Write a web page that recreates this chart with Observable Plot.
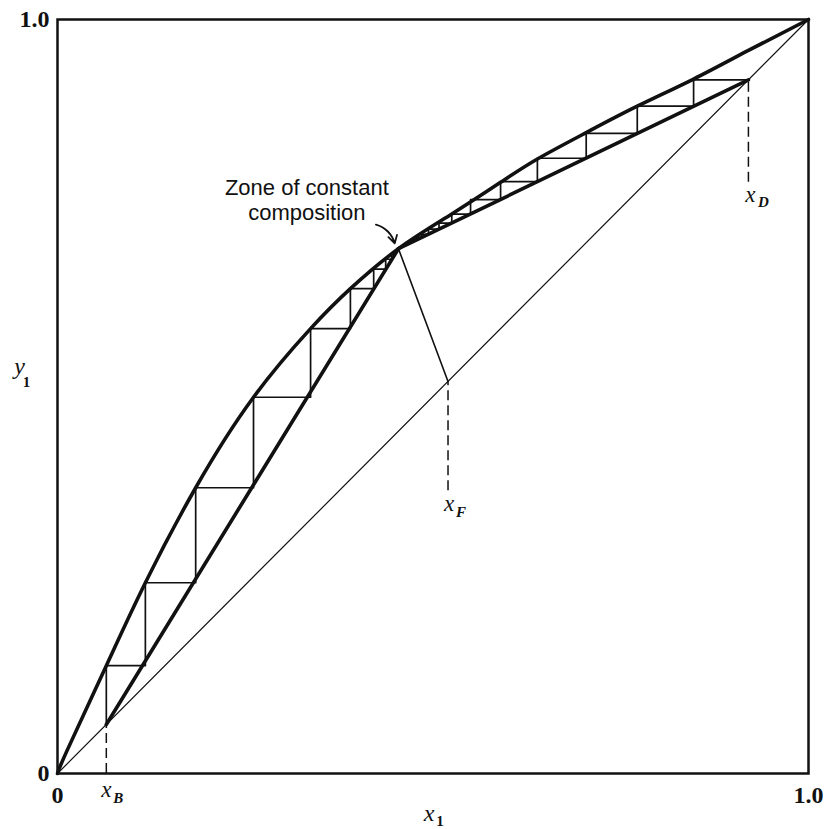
<!DOCTYPE html>
<html><head><meta charset="utf-8">
<script src="https://cdn.jsdelivr.net/npm/d3@7"></script>
<script src="https://cdn.jsdelivr.net/npm/@observablehq/plot@0.6"></script>
<style>body{margin:0;background:#fff}</style>
</head><body><div id="chart"></div>
<script>
// Equilibrium curve
const eqX = [0, 0.013, 0.065, 0.117, 0.184, 0.261, 0.337, 0.390, 0.454, 0.525, 0.590, 0.639, 0.704, 0.772, 0.847, 0.920, 1.0];
const eqY = [0, 0.031, 0.143, 0.253, 0.379, 0.499, 0.590, 0.643, 0.696, 0.742, 0.784, 0.815, 0.850, 0.885, 0.921, 0.959, 1.0];
// key compositions
const xB = 0.065, xF = 0.52, xD = 0.92;
const pinchX = 0.454, pinchY = 0.696;
// stripping-section stage corners (x of verticals, y of horizontals)
const stripX = [0.065, 0.117, 0.184, 0.261, 0.337, 0.390, 0.421, 0.437, 0.445, 0.450];
const stripY = [0.143, 0.253, 0.379, 0.499, 0.590, 0.643, 0.669, 0.682, 0.689, 0.693];
// rectifying-section stage corners
const rectX = [0.847, 0.772, 0.704, 0.639, 0.590, 0.550, 0.525, 0.508, 0.494, 0.485, 0.478, 0.472];
const rectY = [0.920, 0.885, 0.849, 0.816, 0.785, 0.761, 0.742, 0.730, 0.722, 0.715, 0.711, 0.708, 0.705];
// lower ends of dashed drop lines
const xFdashEnd = 0.375, xDdashEnd = 0.784;
// tick values and labels
const tickValues = [0, 1];
const tickLabels = ["0", "1.0"];

const eq = eqX.map((x, i) => ({x, y: eqY[i]}));
const stripSteps = [{x: stripX[0], y: xB}];
stripX.forEach((x, i) => {
  stripSteps.push({x, y: stripY[i]});
  if (i + 1 < stripX.length) stripSteps.push({x: stripX[i + 1], y: stripY[i]});
});
const rectSteps = [{x: xD, y: rectY[0]}];
rectX.forEach((x, i) => {
  rectSteps.push({x, y: rectY[i]});
  rectSteps.push({x, y: rectY[i + 1]});
});
const diag = [{x: 0, y: 0}, {x: 1, y: 1}];
const stripOp = [{x: xB, y: xB}, {x: pinchX, y: pinchY}];
const rectOp = [{x: xD, y: xD}, {x: pinchX, y: pinchY}];
const qLine = [{x: xF, y: xF}, {x: pinchX, y: pinchY}];
const fmt = d => tickLabels[tickValues.indexOf(d)];
const serif = "Liberation Serif";

const plot = Plot.plot({
  width: 824, height: 829,
  marginLeft: 57, marginRight: 16, marginTop: 19, marginBottom: 56,
  x: {domain: [0, 1]}, y: {domain: [0, 1]},
  style: {background: "#fff", color: "#111", fontFamily: serif},
  marks: [
    Plot.line(diag, {x: "x", y: "y", stroke: "#111", strokeWidth: 1.2}),
    Plot.ruleX([xB], {x: d => d, y1: 0, y2: xB, stroke: "#111", strokeWidth: 1.5, strokeDasharray: "10,5"}),
    Plot.ruleX([xF], {x: d => d, y1: xFdashEnd, y2: xF, stroke: "#111", strokeWidth: 1.5, strokeDasharray: "10,5"}),
    Plot.ruleX([xD], {x: d => d, y1: xDdashEnd, y2: xD, stroke: "#111", strokeWidth: 1.5, strokeDasharray: "10,5"}),
    Plot.line(stripSteps, {x: "x", y: "y", stroke: "#111", strokeWidth: 1.7}),
    Plot.line(rectSteps, {x: "x", y: "y", stroke: "#111", strokeWidth: 1.7}),
    Plot.line(qLine, {x: "x", y: "y", stroke: "#111", strokeWidth: 1.6}),
    Plot.line(eq, {x: "x", y: "y", curve: "natural", stroke: "#111", strokeWidth: 3.6}),
    Plot.line(stripOp, {x: "x", y: "y", stroke: "#111", strokeWidth: 3.6}),
    Plot.line(rectOp, {x: "x", y: "y", stroke: "#111", strokeWidth: 3.6}),
    Plot.frame({stroke: "#111", strokeWidth: 2.5}),
    Plot.axisX(tickValues, {tickFormat: fmt, tickSize: 0, tickPadding: 12, label: null,
      fontSize: 24, fontWeight: "bold", fontFamily: serif}),
    Plot.axisY(tickValues, {tickFormat: fmt, tickSize: 0, tickPadding: 8, label: null,
      fontSize: 24, fontWeight: "bold", fontFamily: serif}),
    // axis titles
    Plot.text([0.5], {x: d => d, y: 0, text: () => "x", dx: -4, dy: 40, fontSize: 24, fontStyle: "italic", fontFamily: serif}),
    Plot.text([0.5], {x: d => d, y: 0, text: () => "1", dx: 7, dy: 48, fontSize: 15, fontWeight: "bold", fontFamily: serif}),
    Plot.text([0], {x: d => d, y: 0.5, text: () => "y", dx: -38, dy: -30, fontSize: 24, fontStyle: "italic", fontFamily: serif}),
    Plot.text([0], {x: d => d, y: 0.5, text: () => "1", dx: -31, dy: -14, fontSize: 15, fontWeight: "bold", fontFamily: serif}),
    // composition labels
    Plot.text([xB], {x: d => d, y: 0, text: () => "x", dy: 16, fontSize: 23, fontStyle: "italic", fontFamily: serif}),
    Plot.text([xB], {x: d => d, y: 0, text: () => "B", dx: 12, dy: 25, fontSize: 15, fontStyle: "italic", fontWeight: "bold", fontFamily: serif}),
    Plot.text([xF], {x: d => d, y: xFdashEnd, text: () => "x", dx: 1, dy: 13, fontSize: 23, fontStyle: "italic", fontFamily: serif}),
    Plot.text([xF], {x: d => d, y: xFdashEnd, text: () => "F", dx: 13, dy: 21, fontSize: 15, fontStyle: "italic", fontWeight: "bold", fontFamily: serif}),
    Plot.text([xD], {x: d => d, y: xDdashEnd, text: () => "x", dx: 2, dy: 12, fontSize: 23, fontStyle: "italic", fontFamily: serif}),
    Plot.text([xD], {x: d => d, y: xDdashEnd, text: () => "D", dx: 15, dy: 20, fontSize: 15, fontStyle: "italic", fontWeight: "bold", fontFamily: serif}),
    // annotation
    Plot.text(["Zone of constant\ncomposition"], {x: 0.332, y: 0.761, text: d => d, fontSize: 22, lineHeight: 1.12,
      fontFamily: "Liberation Sans", textAnchor: "middle", fill: "#111"}),
    Plot.arrow([{x1: 0.424, y1: 0.728, x2: 0.449, y2: 0.703}], {x1: "x1", y1: "y1", x2: "x2", y2: "y2",
      bend: 30, headLength: 9, strokeWidth: 1.8, stroke: "#111"})
  ]
});
document.getElementById("chart").append(plot);
</script>
</body></html>
